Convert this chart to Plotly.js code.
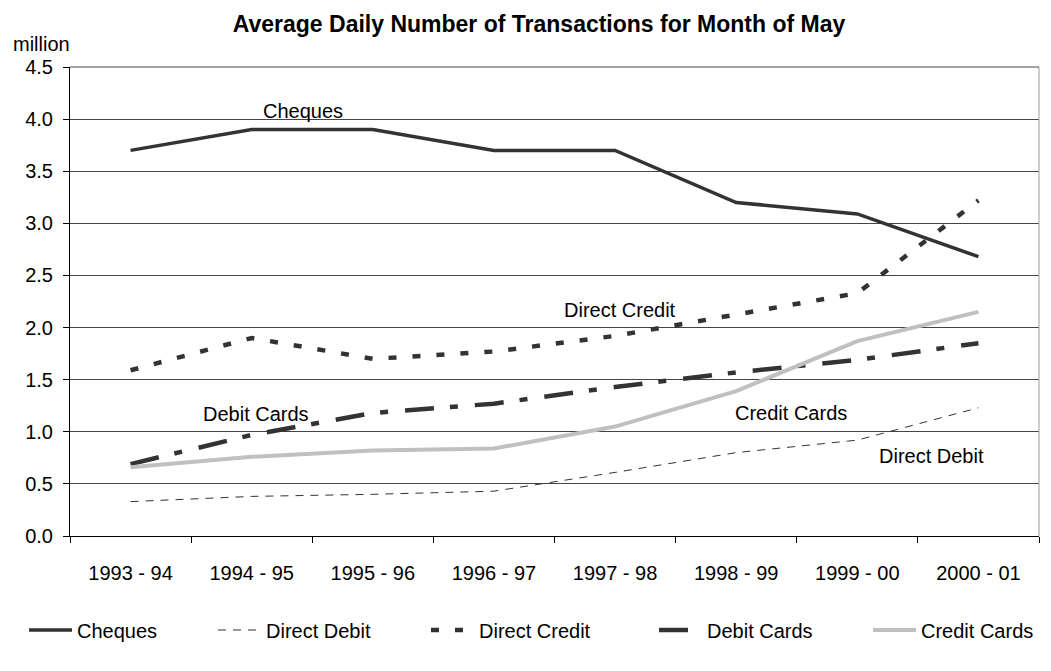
<!DOCTYPE html>
<html>
<head>
<meta charset="utf-8">
<script src="https://cdn.plot.ly/plotly-3.0.1.min.js"></script>
<style>html,body{margin:0;padding:0;background:#fff;}#chart{width:1051px;height:671px;}</style>
</head>
<body>
<div id="chart"></div>
<script>
const years = ["1993 - 94","1994 - 95","1995 - 96","1996 - 97","1997 - 98","1998 - 99","1999 - 00","2000 - 01"];
const cheques      = [3.70, 3.90, 3.90, 3.70, 3.70, 3.20, 3.09, 2.68];
const directDebit  = [0.33, 0.38, 0.40, 0.43, 0.61, 0.80, 0.92, 1.23];
const directCredit = [1.59, 1.90, 1.70, 1.77, 1.92, 2.13, 2.33, 3.22];
const debitCards   = [0.69, 0.97, 1.18, 1.27, 1.43, 1.57, 1.69, 1.85];
const creditCards  = [0.66, 0.76, 0.82, 0.84, 1.05, 1.39, 1.87, 2.15];
const seriesNames  = ["Cheques","Direct Debit","Direct Credit","Debit Cards","Credit Cards"];

const FONT = "Liberation Sans, Arial, sans-serif";
const W = 1051, H = 671;
const M = {l: 70, r: 12, t: 67, b: 135};
const PW = W - M.l - M.r, PH = H - M.t - M.b;
const px = x => (x - M.l) / PW;
const py = y => (H - M.b - y) / PH;

const styles = [
  {color: "#333333", width: 3.5, dash: "solid"},
  {color: "#333333", width: 1, dash: "8px,7px"},
  {color: "#333333", width: 4.5, dash: "8px,16px"},
  {color: "#333333", width: 4.5, dash: "29px,16px,8px,17px"},
  {color: "#c0c0c0", width: 4, dash: "solid"}
];
const values = [cheques, directDebit, directCredit, debitCards, creditCards];
const legendIds = ["legend","legend2","legend3","legend4","legend5"];

const traces = values.map((v, i) => ({
  type: "scatter", mode: "lines", x: years, y: v, name: seriesNames[i],
  line: styles[i], legend: legendIds[i], hoverinfo: "skip"
}));

// legend text start positions (px)
const legendTextX = [77, 266, 479, 707, 921];
const ITEMW = 43;
const legendY = py(630);
const legendBase = {orientation: "h", xanchor: "left", yanchor: "middle", y: legendY,
  font: {family: FONT, size: 20, color: "#000"}, bgcolor: "rgba(0,0,0,0)", borderwidth: 0,
  itemwidth: ITEMW, tracegroupgap: 0};

const layout = {
  width: W, height: H,
  margin: M,
  paper_bgcolor: "#fff", plot_bgcolor: "#fff",
  font: {family: FONT, size: 20, color: "#000"},
  title: {text: "Average Daily Number of Transactions for Month of May",
    font: {family: FONT, size: 23, weight: "bold", color: "#000"},
    xref: "container", yref: "container", x: 539 / W, y: 1 - 24 / H,
    xanchor: "center", yanchor: "middle"},
  xaxis: {type: "category", range: [-0.5, 7.5], showgrid: false, zeroline: false,
    showline: true, linecolor: "#000", linewidth: 1,
    ticks: "outside", tickson: "boundaries", ticklen: 6, tickcolor: "#000", tickwidth: 1,
    ticklabelstandoff: 19, tickfont: {family: FONT, size: 20, color: "#000"}, fixedrange: true},
  yaxis: {range: [0, 4.5], dtick: 0.5, tick0: 0, tickformat: ".1f",
    showgrid: true, gridcolor: "#444", gridwidth: 1, zeroline: false,
    showline: true, linecolor: "#000", linewidth: 1,
    ticks: "outside", ticklen: 6, tickcolor: "#000",
    ticklabelstandoff: 6, tickfont: {family: FONT, size: 20, color: "#000"}, fixedrange: true},
  shapes: [
    {type: "line", xref: "paper", yref: "paper", x0: 1, x1: 1, y0: 0, y1: 1,
     line: {color: "#999", width: 1}},
    {type: "line", xref: "paper", yref: "paper", x0: 0, x1: 1, y0: 1, y1: 1,
     line: {color: "#444", width: 1}}
  ],
  annotations: [
    {text: "million", xref: "paper", yref: "paper", x: px(41), y: py(44), showarrow: false,
     xanchor: "center", yanchor: "middle", font: {family: FONT, size: 20, color: "#000"}},
    {text: "Cheques", xref: "paper", yref: "paper", x: px(302.5), y: py(111), showarrow: false,
     xanchor: "center", yanchor: "middle", font: {family: FONT, size: 20, color: "#000"}},
    {text: "Direct Credit", xref: "paper", yref: "paper", x: px(620), y: py(310), showarrow: false,
     xanchor: "center", yanchor: "middle", font: {family: FONT, size: 20, color: "#000"}},
    {text: "Debit Cards", xref: "paper", yref: "paper", x: px(255.5), y: py(413.5), showarrow: false,
     xanchor: "center", yanchor: "middle", font: {family: FONT, size: 20, color: "#000"}},
    {text: "Credit Cards", xref: "paper", yref: "paper", x: px(790.5), y: py(413), showarrow: false,
     xanchor: "center", yanchor: "middle", font: {family: FONT, size: 20, color: "#000"}},
    {text: "Direct Debit", xref: "paper", yref: "paper", x: px(931), y: py(455.5), showarrow: false,
     xanchor: "center", yanchor: "middle", font: {family: FONT, size: 20, color: "#000"}}
  ],
  showlegend: true
};
legendIds.forEach((id, i) => {
  layout[id] = Object.assign({}, legendBase, {x: px(legendTextX[i] - ITEMW - 10)});
});

Plotly.newPlot("chart", traces, layout, {displayModeBar: false, staticPlot: true});
</script>
</body>
</html>
